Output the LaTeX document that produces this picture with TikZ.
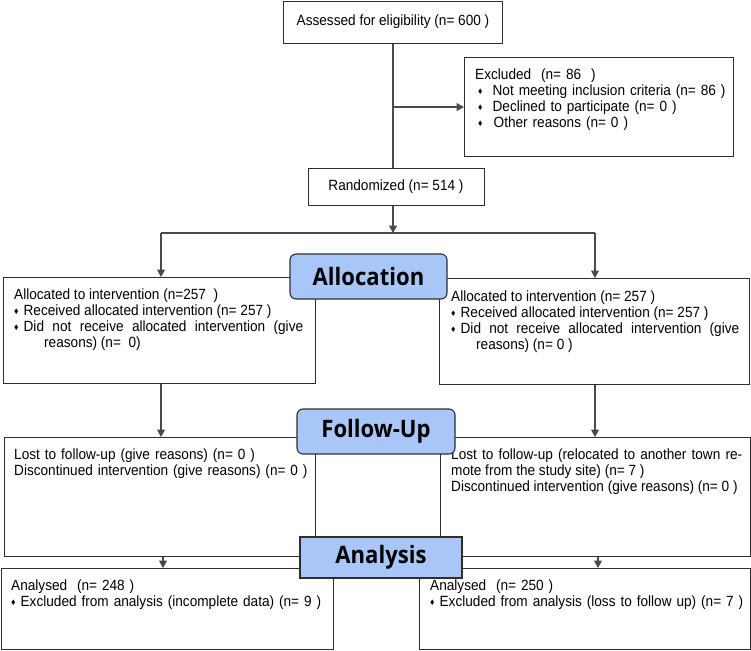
\documentclass[tikz,border=0pt]{standalone}
\usepackage{fontspec}
\setmainfont{Liberation Sans}[FakeStretch=0.92]
\newfontfamily\lblfont{Open Sans}[FakeStretch=0.92]
\usetikzlibrary{arrows.meta}
\definecolor{lblue}{HTML}{A8C6F7}
\definecolor{boxline}{HTML}{2E2E2E}
\definecolor{conline}{HTML}{4A4A4A}
\newcommand{\dm}{{\fontsize{9.5}{9}\selectfont\raisebox{1.2pt}{♦}}}
\tikzset{
  box/.style={draw=boxline, line width=1.1pt, rectangle, inner sep=0pt, anchor=north west, fill=white},
  txt/.style={anchor=north west, inner sep=0pt, align=justify, font=\fontsize{14.8}{16}\selectfont},
  ctxt/.style={inner sep=0pt, font=\fontsize{14.8}{16}\selectfont},
  lbl/.style={draw=boxline, line width=1.1pt, fill=lblue, inner sep=0pt, font=\lblfont\bfseries\fontsize{24}{26}\selectfont},
  conn/.style={draw=conline, line width=1.2pt},
  arr/.style={conn, -{Triangle[length=7.5pt,width=8pt]}}
}
\begin{document}
\begin{tikzpicture}[x=1pt,y=-1pt]
\useasboundingbox (0,0) rectangle (751,650);
% boxes
\node[box, minimum width=219pt, minimum height=42pt] (assess) at (283,1) {};
\node[box, minimum width=269pt, minimum height=99pt] (excl) at (464,57) {};
\node[box, minimum width=176pt, minimum height=37pt] (rand) at (308,168) {};
\node[box, minimum width=312pt, minimum height=106pt] (allocL) at (3,277) {};
\node[box, minimum width=310pt, minimum height=106pt] (allocR) at (439,278) {};
\node[box, minimum width=311pt, minimum height=119pt] (followL) at (4,437) {};
\node[box, minimum width=310pt, minimum height=119pt] (followR) at (440,437) {};
\node[box, minimum width=332pt, minimum height=81pt] (analL) at (1,568) {};
\node[box, minimum width=331pt, minimum height=81pt] (analR) at (419,568) {};
% texts
\node[ctxt] (assesstxt) at (393,21.5) {Assessed for eligibility (n= 600 )};
\node[ctxt] (randtxt) at (396,186.5) {Randomized (n= 514 )};
\node[txt, text width=258pt, align=left] (excltxt) at (475,69) {Excluded~~(n= 86~~)\\
\hspace*{3pt}\dm\hspace{10pt}Not meeting inclusion criteria (n= 86 )\\
\hspace*{3pt}\dm\hspace{10pt}Declined to participate (n= 0 )\\
\hspace*{3pt}\dm\hspace{11pt}Other reasons (n= 0 )};
\node[txt, text width=289pt] (allocLtxt) at (14,289) {Allocated to intervention (n=257~~)\par
\dm\hspace{5pt}Received allocated intervention (n= 257 )\par
\hangindent=30pt\hangafter=1 \dm\hspace{5pt}Did not receive allocated intervention (give\linebreak reasons) (n=~~0)\par};
\node[txt, text width=288pt] (allocRtxt) at (451,291) {Allocated to intervention (n= 257 )\par
\dm\hspace{5pt}Received allocated intervention (n= 257 )\par
\hangindent=25pt\hangafter=1 \dm\hspace{5pt}Did not receive allocated intervention (give\linebreak reasons) (n= 0 )\par};
\node[txt, text width=300pt, align=left] (followLtxt) at (14,448.5) {Lost to follow-up (give reasons) (n= 0 )\\
Discontinued intervention (give reasons) (n= 0 )};
\node[txt, text width=291pt] (followRtxt) at (451,448.5) {Lost to follow-up (relocated to another town re-\linebreak mote from the study site) (n= 7 )\par
Discontinued intervention (give reasons) (n= 0 )\par};
\node[txt, text width=318pt, align=left] (analLtxt) at (11,580) {Analysed~~(n= 248 )\\
\dm\hspace{5pt}Excluded from analysis (incomplete data) (n= 9 )};
\node[txt, text width=318pt, align=left] (analRtxt) at (430,580) {Analysed~~(n= 250 )\\
\dm\hspace{5pt}Excluded from analysis (loss to follow up) (n= 7 )};
% connectors
\coordinate (br) at (assess.south |- excl.west);
\coordinate (split) at (assess.south |- 0,233);
\coordinate (jl) at (161,233);
\coordinate (jr) at (595,233);
\coordinate (kl) at (163,0);
\coordinate (kr) at (598,0);
\draw[conn] (assess.south) -- (assess.south |- rand.north);
\draw[arr] (br) -- (excl.west);
\draw[arr] (assess.south |- rand.south) -- (split);
\draw[conn] (jl) -- (jr);
\draw[arr] (jl) -- (jl |- allocL.north);
\draw[arr] (jr) -- (jr |- allocR.north);
\draw[arr] (jl |- allocL.south) -- (jl |- followL.north);
\draw[arr] (jr |- allocR.south) -- (jr |- followR.north);
\draw[arr] (kl |- followL.south) -- (kl |- analL.north);
\draw[arr] (kr |- followR.south) -- (kr |- analR.north);
% labels
\node[lbl, rounded corners=6pt, minimum width=157pt, minimum height=45pt] (allocLbl) at (368.5,276.5) {Allocation};
\node[lbl, rounded corners=6pt, minimum width=158pt, minimum height=45pt] (followLbl) at (376,431.5) {Follow-Up};
\node[lbl, minimum width=162pt, minimum height=41pt] (analLbl) at (381,557.5) {Analysis};
\end{tikzpicture}
\end{document}
